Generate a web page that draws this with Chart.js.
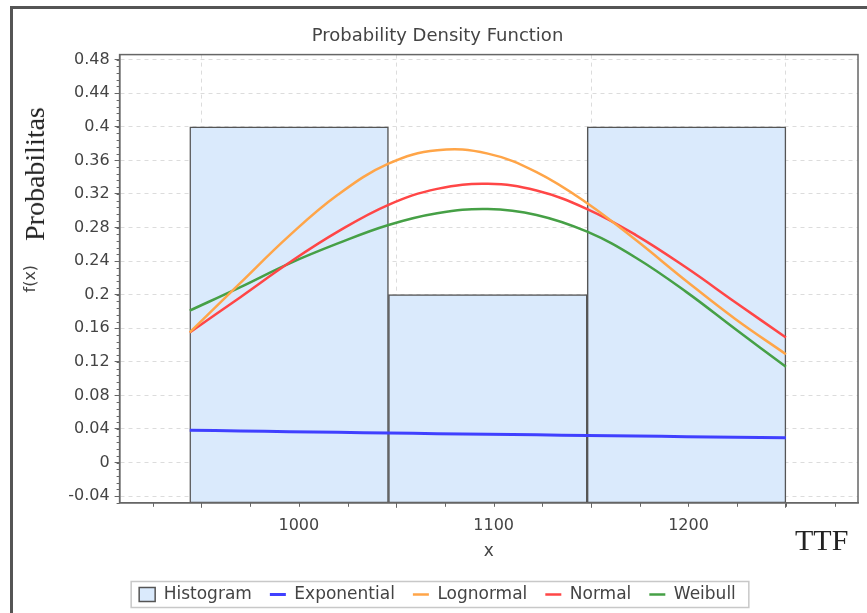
<!DOCTYPE html>
<html>
<head>
<meta charset="utf-8">
<title>Probability Density Function</title>
<script src="https://cdn.jsdelivr.net/npm/chart.js@4.4.0/dist/chart.umd.min.js"></script>
<style>
  html, body { margin: 0; padding: 0; background: #fff; overflow: hidden; }
  body { width: 867px; height: 613px; position: relative; }
  #frame { position: absolute; left: 10px; top: 6px; width: 900px; height: 650px; border-top: 3px solid #555; border-left: 3px solid #555; }
  #box { position: absolute; left: 13px; top: 9px; width: 854px; height: 604px; }
  .note { position: absolute; font-family: "Liberation Serif", "Times New Roman", serif; color: #222; line-height: 1; white-space: nowrap; }
  #probLabel { left: 35px; top: 174px; font-size: 28px; transform: translate(-50%, -50%) rotate(-90deg); }
  #ttfLabel { left: 795px; top: 525px; font-size: 30px; }
</style>
</head>
<body>
<div id="frame"></div>
<div id="box"><canvas id="myChart"></canvas></div>
<div class="note" id="probLabel">Probabilitas</div>
<div class="note" id="ttfLabel">TTF</div>
<script>
// histogram bins (centres, bin width 102)
const binCenters = [995, 1097, 1199];
const binHeights = [0.4, 0.2, 0.4];

// fitted curves
const xs = [944, 970, 995, 1020, 1046, 1071, 1097, 1122, 1148, 1173, 1199, 1224, 1250];
const exponential = [0.0385, 0.0376, 0.0368, 0.0360, 0.0352, 0.0344, 0.0337, 0.0330, 0.0322, 0.0315, 0.0308, 0.0301, 0.0295];
const lognormal = [0.155, 0.214, 0.270, 0.319, 0.356, 0.372, 0.368, 0.346, 0.309, 0.265, 0.216, 0.171, 0.129];
const normal = [0.155, 0.197, 0.238, 0.275, 0.307, 0.326, 0.332, 0.324, 0.302, 0.271, 0.232, 0.191, 0.149];
const weibull = [0.181, 0.209, 0.237, 0.261, 0.283, 0.297, 0.302, 0.295, 0.275, 0.244, 0.203, 0.159, 0.114];

const xTicks = [1000, 1100, 1200];
const yTicks = [-0.04, 0, 0.04, 0.08, 0.12, 0.16, 0.2, 0.24, 0.28, 0.32, 0.36, 0.4, 0.44, 0.48];

const xMin = 908, xMax = 1287;
const yMin = -0.048, yMax = 0.486;

const font = 'DejaVu Sans';
const textColor = '#444';

function curve(name, values, color, width) {
    return {
        type: 'line',
        label: name,
        data: xs.map((x, i) => ({x: x, y: values[i]})),
        borderColor: color,
        backgroundColor: color,
        borderWidth: width,
        pointRadius: 0,
        pointStyle: 'line',
        tension: 0.4,
        fill: false,
        order: 0
    };
}

// minor ticks, plot frame and legend box
const extras = {
    id: 'extras',
    afterDraw(chart) {
        const ctx = chart.ctx;
        const a = chart.chartArea;
        const x = chart.scales.x, y = chart.scales.y;
        ctx.save();
        ctx.strokeStyle = '#666';
        ctx.lineWidth = 1;
        ctx.beginPath();
        for (let k = 0; k <= 66; k++) {
            const v = -0.048 + k * 0.008;
            if (v > yMax) break;
            const py = Math.round(y.getPixelForValue(v)) + 0.5;
            ctx.moveTo(a.left - 3, py);
            ctx.lineTo(a.left, py);
        }
        for (let v = 925; v <= xMax; v += 25) {
            const px = Math.round(x.getPixelForValue(v)) + 0.5;
            ctx.moveTo(px, a.bottom);
            ctx.lineTo(px, a.bottom + 4);
        }
        ctx.stroke();

        ctx.strokeStyle = '#666';
        ctx.lineWidth = 1.5;
        ctx.strokeRect(a.left, a.top, a.right - a.left, a.bottom - a.top);

        const hb = chart.legend.legendHitBoxes;
        if (hb && hb.length) {
            const cx = chart.width / 2;
            const left = hb[0].left - 8;
            const cy = hb[0].top + hb[0].height / 2;
            ctx.strokeStyle = '#c8c8c8';
            ctx.lineWidth = 1.5;
            ctx.strokeRect(left, cy - 13, 2 * (cx - left), 26);
        }
        ctx.restore();
    }
};

const data = {
    datasets: [
        {
            type: 'bar',
            label: 'Histogram',
            data: binCenters.map((c, i) => ({x: c, y: binHeights[i]})),
            base: yMin,
            backgroundColor: 'rgb(218, 234, 252)',
            borderColor: '#555',
            borderWidth: 1.5,
            borderSkipped: false,
            barThickness: 'flex',
            barPercentage: 1,
            categoryPercentage: 1,
            pointStyle: 'rect',
            order: 1
        },
        curve('Exponential', exponential, 'rgb(64, 64, 255)', 3),
        curve('Lognormal', lognormal, 'rgb(255, 165, 72)', 2.5),
        curve('Normal', normal, 'rgb(255, 70, 70)', 2.5),
        curve('Weibull', weibull, 'rgb(70, 160, 70)', 2.5)
    ]
};

const config = {
    type: 'line',
    data: data,
    options: {
        responsive: true,
        maintainAspectRatio: false,
        animation: false,
        layout: { padding: { left: 4, right: 9, top: 7, bottom: 0 } },
        plugins: {
            title: {
                display: true,
                text: 'Probability Density Function',
                color: textColor,
                font: { family: font, size: 18, weight: 'normal' },
                padding: { top: 10, bottom: 7 }
            },
            legend: {
                position: 'bottom',
                labels: {
                    color: textColor,
                    font: { family: font, size: 17 },
                    usePointStyle: true,
                    pointStyleWidth: 16,
                    boxHeight: 14,
                    padding: 18,
                    sort: (a, b) => a.datasetIndex - b.datasetIndex
                }
            },
            tooltip: { enabled: false }
        },
        scales: {
            x: {
                type: 'linear',
                min: xMin,
                max: xMax,
                offset: false,
                afterBuildTicks: scale => { scale.ticks = xTicks.map(v => ({value: v})); },
                ticks: {
                    color: textColor,
                    font: { family: font, size: 16, lineHeight: 1 },
                    padding: 9.6,
                    callback: v => String(v)
                },
                grid: { color: '#dcdcdc', tickColor: '#666', tickLength: 5, tickBorderDash: [] },
                border: { color: '#666', width: 1.5, dash: [4, 4] },
                title: {
                    display: true,
                    text: 'x',
                    color: textColor,
                    font: { family: font, size: 17, lineHeight: 1 },
                    padding: { top: 0, bottom: 8 }
                }
            },
            y: {
                type: 'linear',
                min: yMin,
                max: yMax,
                afterBuildTicks: scale => { scale.ticks = yTicks.map(v => ({value: v})); },
                ticks: {
                    color: textColor,
                    font: { family: font, size: 16 },
                    padding: 5,
                    callback: v => String(+v.toFixed(2))
                },
                grid: { color: '#dcdcdc', tickColor: '#666', tickLength: 5, tickBorderDash: [] },
                border: { color: '#666', width: 1.5, dash: [4, 4] },
                title: {
                    display: true,
                    text: 'f(x)',
                    color: textColor,
                    font: { family: font, size: 16 },
                    padding: { top: 4, bottom: 23 }
                }
            }
        }
    },
    plugins: [extras]
};

const myChart = new Chart(document.getElementById('myChart'), config);
</script>
</body>
</html>
